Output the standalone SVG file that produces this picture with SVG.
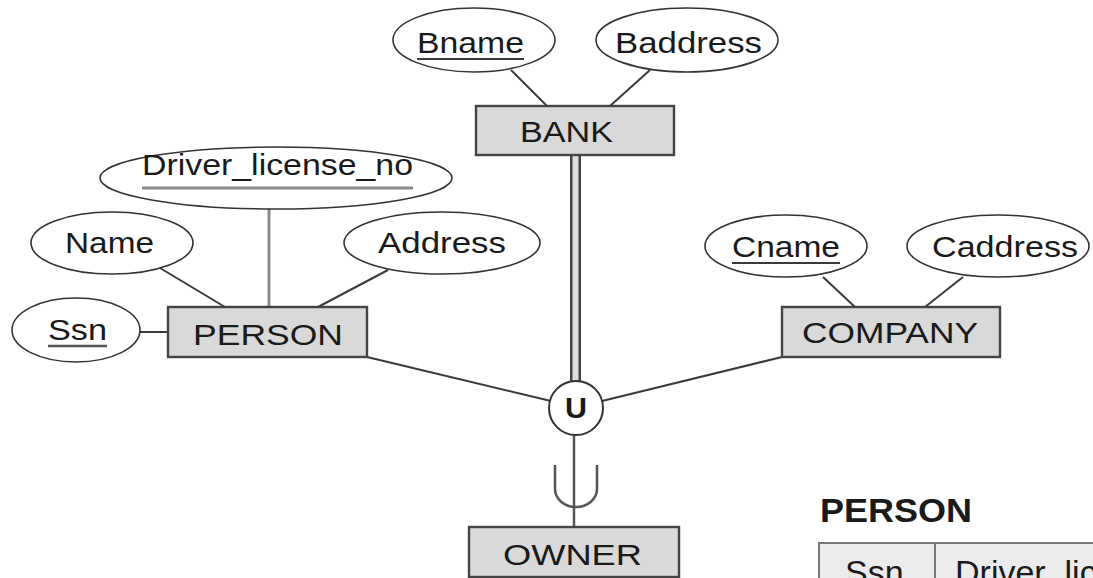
<svg xmlns="http://www.w3.org/2000/svg" width="1093" height="578" viewBox="0 0 1093 578">
  <style>
    .lbl { font-family: "Liberation Sans", Arial, sans-serif; font-size: 29px; fill: #1a1a1a; }
    .attr { fill: #ffffff; stroke: #333333; stroke-width: 1.6; }
    .ent { fill: #d9d9d9; stroke: #444444; stroke-width: 2.4; }
    .edge { stroke: #3a3a3a; stroke-width: 2; fill: none; }
    .ul { stroke: #3a3a3a; stroke-width: 2; }
    .tbl { font-family: "Liberation Sans", Arial, sans-serif; font-size: 34px; fill: #1a1a1a; }
  </style>

  <rect width="1093" height="578" fill="#ffffff"/>

  <!-- connectors -->
  <g id="connectors">
    <line class="edge" x1="511" y1="70" x2="547" y2="106"/>
    <line class="edge" x1="650" y1="70" x2="610" y2="106"/>
    <line x1="269" y1="209" x2="269" y2="307" stroke="#8a8a8a" stroke-width="3"/>
    <line class="edge" x1="160" y1="268" x2="225" y2="307"/>
    <line class="edge" x1="388" y1="270" x2="318" y2="307"/>
    <line class="edge" x1="140" y1="332" x2="168" y2="332"/>
    <line class="edge" x1="823" y1="277" x2="855" y2="307"/>
    <line class="edge" x1="963" y1="277" x2="925" y2="307"/>
    <line class="edge" x1="367" y1="357" x2="551" y2="401"/>
    <line class="edge" x1="782" y1="357" x2="602" y2="401"/>
    <!-- total participation of BANK: double line -->
    <line x1="575.5" y1="155" x2="575.5" y2="382" stroke="#444444" stroke-width="11"/>
    <line x1="575.5" y1="155" x2="575.5" y2="382" stroke="#dddddd" stroke-width="6"/>
    <!-- union to OWNER with subset symbol -->
    <line x1="574" y1="435" x2="574" y2="527" stroke="#555555" stroke-width="2.5"/>
    <path d="M555 465 L555 489 A21 18 0 0 0 597 489 L597 465" fill="none" stroke="#555555" stroke-width="2.5"/>
  </g>

  <!-- BANK with attributes -->
  <g id="bname">
    <ellipse class="attr" cx="474" cy="40" rx="81" ry="32"/>
    <text class="lbl" x="417" y="53" textLength="107" lengthAdjust="spacingAndGlyphs">Bname</text>
    <line class="ul" x1="417" y1="59" x2="524" y2="59"/>
  </g>
  <g id="baddress">
    <ellipse class="attr" cx="687" cy="40" rx="91" ry="32"/>
    <text class="lbl" x="615" y="53" textLength="147" lengthAdjust="spacingAndGlyphs">Baddress</text>
  </g>
  <g id="bank">
    <rect class="ent" x="476" y="106" width="198" height="49"/>
    <text class="lbl" x="520" y="142" textLength="93" lengthAdjust="spacingAndGlyphs">BANK</text>
  </g>

  <!-- PERSON with attributes -->
  <g id="driver-license-no">
    <ellipse class="attr" cx="276" cy="178" rx="176" ry="31"/>
    <text class="lbl" x="142" y="175" textLength="271" lengthAdjust="spacingAndGlyphs">Driver_license_no</text>
    <line x1="142" y1="188" x2="413" y2="188" stroke="#8a8a8a" stroke-width="3"/>
  </g>
  <g id="name">
    <ellipse class="attr" cx="112" cy="243" rx="81" ry="31"/>
    <text class="lbl" x="65" y="253" textLength="89" lengthAdjust="spacingAndGlyphs">Name</text>
  </g>
  <g id="address">
    <ellipse class="attr" cx="442" cy="243" rx="98" ry="31"/>
    <text class="lbl" x="378" y="253" textLength="128" lengthAdjust="spacingAndGlyphs">Address</text>
  </g>
  <g id="ssn">
    <ellipse class="attr" cx="76" cy="330" rx="64" ry="32"/>
    <text class="lbl" x="48" y="340" textLength="59" lengthAdjust="spacingAndGlyphs">Ssn</text>
    <line x1="48" y1="346" x2="107" y2="346" stroke="#555555" stroke-width="2.5"/>
  </g>
  <g id="person">
    <rect class="ent" x="168" y="307" width="199" height="50"/>
    <text class="lbl" x="193" y="345" textLength="150" lengthAdjust="spacingAndGlyphs">PERSON</text>
  </g>

  <!-- COMPANY with attributes -->
  <g id="cname">
    <ellipse class="attr" cx="786" cy="246" rx="81" ry="31"/>
    <text class="lbl" x="732" y="257" textLength="108" lengthAdjust="spacingAndGlyphs">Cname</text>
    <line class="ul" x1="732" y1="263" x2="840" y2="263"/>
  </g>
  <g id="caddress">
    <ellipse class="attr" cx="998" cy="246" rx="91" ry="31"/>
    <text class="lbl" x="932" y="257" textLength="146" lengthAdjust="spacingAndGlyphs">Caddress</text>
  </g>
  <g id="company">
    <rect class="ent" x="782" y="307" width="218" height="50"/>
    <text class="lbl" x="802" y="343" textLength="176" lengthAdjust="spacingAndGlyphs">COMPANY</text>
  </g>

  <!-- union category -->
  <g id="union">
    <circle cx="576" cy="408" r="27" fill="#ffffff" stroke="#333333" stroke-width="2"/>
    <text class="lbl" x="565" y="418" font-weight="bold" font-size="26" textLength="22" lengthAdjust="spacingAndGlyphs">U</text>
  </g>
  <g id="owner">
    <rect class="ent" x="469" y="527" width="210" height="50"/>
    <text class="lbl" x="503" y="565" textLength="139" lengthAdjust="spacingAndGlyphs">OWNER</text>
  </g>

  <!-- relational table heading -->
  <g id="person-table">
    <text class="tbl" x="820" y="522" font-weight="bold" font-size="36" textLength="152" lengthAdjust="spacingAndGlyphs">PERSON</text>
    <rect x="819" y="543" width="290" height="60" fill="#ebebeb" stroke="#777777" stroke-width="2"/>
    <line x1="935" y1="543" x2="935" y2="600" stroke="#777777" stroke-width="2"/>
    <text class="tbl" x="845" y="584">Ssn</text>
    <text class="tbl" x="955" y="584">Driver_lic</text>
  </g>
</svg>
